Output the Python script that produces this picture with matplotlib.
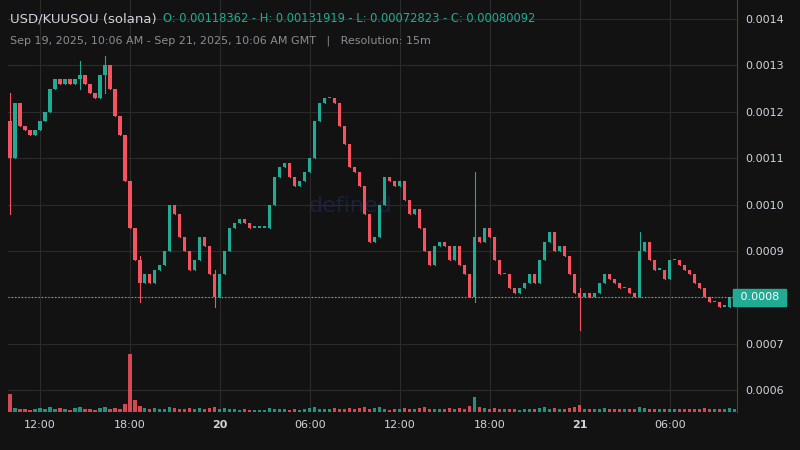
import matplotlib
matplotlib.use("Agg")
import matplotlib.pyplot as plt
from matplotlib.patches import Rectangle

closes = [0.00110,0.00122,0.00117,0.00116,0.00115,0.00116,0.00118,0.00120,0.00125,0.00127,
0.00126,0.00127,0.00126,0.00127,0.00128,0.00126,0.00124,0.00123,0.00128,0.00130,
0.00125,0.00119,0.00115,0.00105,0.00095,0.00088,0.00083,0.00085,0.00083,0.00086,
0.00087,0.00090,0.00100,0.00098,0.00093,0.00090,0.00086,0.00088,0.00093,0.00091,
0.00085,0.00080,0.00085,0.00090,0.00095,0.00096,0.00097,0.00096,0.00095,0.00095,
0.00095,0.00095,0.00100,0.00106,0.00108,0.00109,0.00106,0.00104,0.00105,0.00107,
0.00110,0.00118,0.00122,0.00123,0.00123,0.00122,0.00117,0.00113,0.00108,0.00107,
0.00104,0.00098,0.00092,0.00093,0.00100,0.00106,0.00105,0.00104,0.00105,0.00101,
0.00098,0.00099,0.00095,0.00090,0.00087,0.00091,0.00092,0.00091,0.00088,0.00091,
0.00087,0.00085,0.00080,0.00093,0.00092,0.00095,0.00093,0.00088,0.00085,0.00085,
0.00082,0.00081,0.00082,0.00083,0.00085,0.00083,0.00088,0.00092,0.00094,0.00090,
0.00091,0.00089,0.00085,0.00081,0.00080,0.00081,0.00080,0.00081,0.00083,0.00085,
0.00084,0.00083,0.00082,0.00082,0.00081,0.00080,0.00090,0.00092,0.00088,0.00086,
0.00086,0.00084,0.00088,0.00088,0.00087,0.00086,0.00085,0.00083,0.00082,0.00080,
0.00079,0.00079,0.00078,0.00078,0.00080,0.00080]
first_open = 0.00118
wick_idx = [0, 14, 19, 26, 41, 93, 114, 126]
wick_hi = [0.00124, 0.00131, 0.00132, 0.00089, 0.00086, 0.00107, 0.00082, 0.00094]
wick_lo = [0.00098, 0.00125, 0.00124, 0.00079, 0.00078, 0.00079, 0.00073, 0.00080]
volumes = [18,4,3,3,2,3,4,3,5,3,4,3,2,4,5,3,3,2,4,5,3,4,3,8,58,12,6,4,3,4,
3,3,5,4,3,3,4,3,4,3,4,5,3,4,3,3,2,3,2,2,2,2,4,3,3,3,2,3,2,3,
4,5,3,3,3,4,3,3,4,3,4,5,3,4,5,3,2,3,3,4,3,3,4,5,3,3,3,3,4,3,
4,3,6,15,5,4,3,4,3,3,3,3,2,3,3,3,4,5,3,4,3,3,4,5,7,3,3,3,3,4,
3,3,3,3,3,3,5,4,3,3,3,3,3,3,3,3,3,3,3,4,3,3,3,3,4,3]
start_hour = 10.0
step_hours = 1/3
xtick_hours = [12, 18, 24, 30, 36, 42, 48, 54]
xtick_labels = ["12:00", "18:00", "20", "06:00", "12:00", "18:00", "21", "06:00"]
ytick_vals = [0.0006, 0.0007, 0.0008, 0.0009, 0.0010, 0.0011, 0.0012, 0.0013, 0.0014]

UP = "#22ab94"; DN = "#f7525f"; BG = "#121212"; GRID = "#2b2b2b"; TXT = "#d1d4dc"

fig = plt.figure(figsize=(8, 4.5), dpi=100, facecolor=BG)
ax = fig.add_axes([0.01, 0.0844, 0.911, 0.9156], facecolor=BG)
vax = ax.twinx()
vax.set_ylim(0, 58 / 0.14)
vax.axis("off")

opens = [first_open] + closes[:-1]
w = step_hours * 0.62
for i, (o, c) in enumerate(zip(opens, closes)):
    t = start_hour + i * step_hours
    col = UP if c >= o else DN
    hi, lo = max(o, c), min(o, c)
    if i in wick_idx:
        k = wick_idx.index(i)
        hi, lo = max(hi, wick_hi[k]), min(lo, wick_lo[k])
    ax.plot([t, t], [lo, hi], color=col, lw=0.8, zorder=3)
    ax.add_patch(Rectangle((t - w/2, min(o, c)), w, max(abs(c - o), 0.000003), color=col, zorder=4, lw=0))
    vax.bar(t, volumes[i], width=w, color=col, alpha=0.85, lw=0)

last = closes[-1]
ax.set_xlim(9.867, 58.47)
ax.set_ylim(0.000553, 0.001441)
ax.set_xticks(xtick_hours)
ax.set_xticklabels(xtick_labels)
for lbl in ax.get_xticklabels():
    if lbl.get_text() in ("20", "21"):
        lbl.set_fontweight("bold")
ax.yaxis.tick_right()
ax.set_yticks(ytick_vals)
ax.set_yticklabels(["" if abs(v - last) < 1e-9 else f"{v:.4f}" for v in ytick_vals])
ax.tick_params(colors=TXT, labelsize=8, length=0, pad=6)
ax.grid(True, color=GRID, lw=0.8)
for s in ["top", "left", "bottom"]:
    ax.spines[s].set_visible(False)
ax.spines["right"].set_color("#444444")

ax.axhline(last, color="#aaaaaa", ls=(0, (1, 2)), lw=0.8, zorder=5)
ax.text(1.0, last, " 0.0008 ", transform=ax.get_yaxis_transform(), ha="left", va="center",
        fontsize=8, color="white", bbox=dict(boxstyle="square,pad=0.35", fc=UP, ec=UP), zorder=6)

ax.text(0.47, 0.5, "defined", transform=ax.transAxes, fontsize=16, color="#1c1f3a",
        ha="center", va="center", zorder=1)

fig.text(10/800, 1 - 19/450, "USD/KUUSOU (solana)", color=TXT, fontsize=9.5, va="center")
fig.text(163/800, 1 - 19/450, "O: 0.00118362 - H: 0.00131919 - L: 0.00072823 - C: 0.00080092",
         color=UP, fontsize=8.3, va="center")
fig.text(10/800, 1 - 41/450, "Sep 19, 2025, 10:06 AM - Sep 21, 2025, 10:06 AM GMT   |   Resolution: 15m",
         color="#8a8d93", fontsize=8, va="center")

fig.savefig("out.png", dpi=100, facecolor=BG)
